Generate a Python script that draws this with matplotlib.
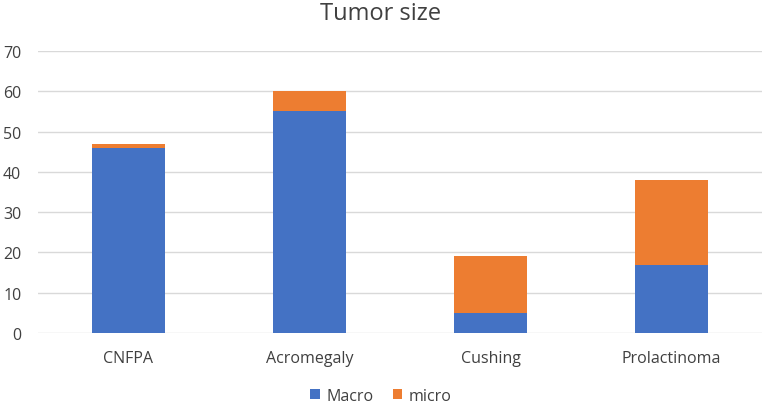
import matplotlib

matplotlib.use("Agg")
import matplotlib.pyplot as plt
import numpy as np

categories = ["CNFPA", "Acromegaly", "Cushing", "Prolactinoma"]
macro = [46, 55, 5, 17]
micro = [1, 5, 14, 21]
yticks = [0, 10, 20, 30, 40, 50, 60, 70]

BLUE = "#4472C4"
ORANGE = "#ED7D31"
TEXT = "#404040"

plt.rcParams["font.family"] = ["Open Sans", "DejaVu Sans"]

fig = plt.figure(figsize=(7.62, 4.06), dpi=100)
ax = fig.add_axes([38 / 762, 1 - 334 / 406, 724 / 762, (334 - 52) / 406])

x = np.arange(len(categories))
ax.bar(x, macro, width=0.4, color=BLUE, label="Macro", zorder=3)
ax.bar(x, micro, width=0.4, bottom=macro, color=ORANGE, label="micro", zorder=3)

ax.set_xlim(-0.5, len(categories) - 0.5)
ax.set_ylim(0, 70)
ax.set_yticks(yticks)
ax.set_xticks(x)
ax.set_xticklabels(categories)
ax.tick_params(length=0, labelsize=11.5, colors=TEXT)
ax.tick_params(axis="x", pad=12)
ax.tick_params(axis="y", pad=12)
ax.grid(axis="y", color="#D9D9D9", linewidth=1, zorder=0)
for s in ax.spines.values():
    s.set_visible(False)

fig.text(0.5, 1 - 14 / 406, "Tumor size", ha="center", va="center", fontsize=17, color=TEXT)
fig.legend(loc="center", bbox_to_anchor=(0.5, 1 - 397 / 406), ncol=2, frameon=False,
           fontsize=11.5, handlelength=0.6, handleheight=0.6, columnspacing=1.2,
           handletextpad=0.4, labelcolor=TEXT)

fig.savefig("out.png", dpi=100)
